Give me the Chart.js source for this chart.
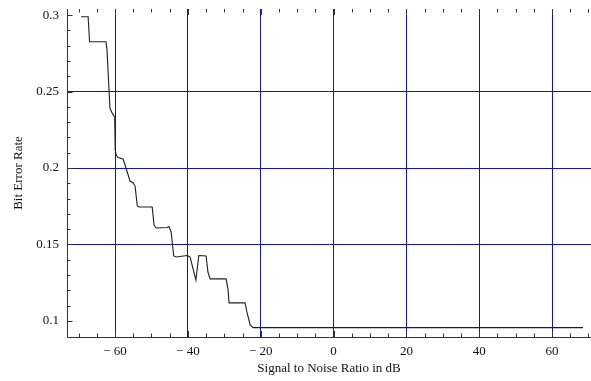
<!DOCTYPE html>
<html><head><meta charset="utf-8">
<script src="https://cdn.jsdelivr.net/npm/chart.js@4/dist/chart.umd.min.js"></script>
<style>html,body{margin:0;padding:0;background:#fff;overflow:hidden}</style>
</head><body>
<canvas id="c" width="591" height="381"></canvas>
<script>
// Signal to Noise Ratio (dB) vs Bit Error Rate
const snrDb = [-69.3, -67.4, -67.0, -62.5, -62.2, -61.8, -61.4, -60.8, -60.1, -59.96, -59.7, -59.2, -57.8, -57.0, -55.9, -55.0, -54.5, -53.9, -53.4, -49.8, -49.3, -48.7, -45.7, -45.2, -44.6, -43.9, -43.2, -40.2, -39.4, -37.8, -37.0, -35.0, -34.5, -33.9, -29.5, -28.97, -28.7, -24.3, -23.8, -22.9, -22.1, 68.5];
const bitErrorRate = [0.2989, 0.2989, 0.2826, 0.2826, 0.2771, 0.2575, 0.2392, 0.2359, 0.2333, 0.2118, 0.2085, 0.2069, 0.2059, 0.2000, 0.1915, 0.1902, 0.1882, 0.1752, 0.1745, 0.1745, 0.1627, 0.1608, 0.1611, 0.1618, 0.1582, 0.1425, 0.1418, 0.1428, 0.1418, 0.1268, 0.1428, 0.1425, 0.1320, 0.1275, 0.1275, 0.1203, 0.1118, 0.1118, 0.1059, 0.0974, 0.0956, 0.0956];

const xTickLabels = [-60, -40, -20, 0, 20, 40, 60];
const yTickLabels = [0.1, 0.15, 0.2, 0.25, 0.3];
const yGridValues = [0.15, 0.2, 0.25];
const xTickMarks = [-70, -65, -60, -55, -50, -45, -40, -35, -30, -25, -20, -15, -10, -5, 0, 5, 10, 15, 20, 25, 30, 35, 40, 45, 50, 55, 60, 65, 70];
const yTickMarks = [0.1, 0.11, 0.12, 0.13, 0.14, 0.15, 0.16, 0.17, 0.18, 0.19, 0.2, 0.21, 0.22, 0.23, 0.24, 0.25, 0.26, 0.27, 0.28, 0.29, 0.3];
const yMajorMarks = [0.1, 0.15, 0.2, 0.25, 0.3];

const GRID = '#1414b4';
const FRAME = '#333333';
const FONT = {family: "'Liberation Serif', 'Times New Roman', serif", size: 13};

const tickMarksPlugin = {
  id: 'tickMarks',
  afterDraw(chart) {
    const {ctx, chartArea: a, scales: {x, y}} = chart;
    ctx.save();
    ctx.strokeStyle = FRAME;
    ctx.lineWidth = 1;
    ctx.beginPath();
    xTickMarks.forEach(v => {
      const px = Math.round(x.getPixelForValue(v)) + 0.5;
      if (px < a.left || px > a.right) return;
      const len = xTickLabels.includes(v) ? 6 : 3.5;
      ctx.moveTo(px, a.bottom); ctx.lineTo(px, a.bottom - len);
      ctx.moveTo(px, a.top); ctx.lineTo(px, a.top + len);
    });
    yTickMarks.forEach(v => {
      const py = Math.round(y.getPixelForValue(v)) + 0.5;
      const len = yMajorMarks.includes(v) ? 5.5 : 3.5;
      ctx.moveTo(a.left, py); ctx.lineTo(a.left + len, py);
    });
    ctx.stroke();
    ctx.restore();
  }
};

new Chart(document.getElementById('c'), {
  type: 'line',
  data: {
    datasets: [{
      data: snrDb.map((v, i) => ({x: v, y: bitErrorRate[i]})),
      borderColor: '#1e1e1e',
      borderWidth: 1.1,
      pointRadius: 0,
      tension: 0,
      fill: false
    }]
  },
  options: {
    responsive: false,
    animation: false,
    devicePixelRatio: 1,
    layout: {padding: {top: 9, right: 0, left: 0, bottom: 0}},
    plugins: {legend: {display: false}, tooltip: {enabled: false}},
    scales: {
      x: {
        type: 'linear',
        min: -73.2,
        max: 70.7,
        afterBuildTicks: s => { s.ticks = xTickLabels.map(v => ({value: v})); },
        afterFit: s => { s.height = 44; s.paddingLeft = 0; s.paddingRight = 0; },
        grid: {color: GRID, lineWidth: 1, drawTicks: false},
        border: {display: true, color: FRAME, width: 1},
        ticks: {
          color: '#111', font: FONT, padding: 7, maxRotation: 0, autoSkip: false,
          callback: v => v < 0 ? '\u2212 ' + (-v) : String(v)
        },
        title: {display: true, text: 'Signal to Noise Ratio in dB', color: '#111', font: FONT, padding: {top: 0, bottom: 5}}
      },
      y: {
        type: 'linear',
        min: 0.0895,
        max: 0.304,
        afterBuildTicks: s => { s.ticks = yTickLabels.map(v => ({value: v})); },
        afterFit: s => { s.width = 67; s.paddingTop = 0; s.paddingBottom = 0; },
        grid: {
          color: c => (c.tick && yGridValues.includes(c.tick.value)) ? GRID : 'rgba(0,0,0,0)',
          lineWidth: 1, drawTicks: false
        },
        border: {display: true, color: FRAME, width: 1},
        ticks: {
          color: '#111', font: FONT, padding: 8, autoSkip: false,
          callback: v => String(+Number(v).toFixed(2))
        },
        title: {display: true, text: 'Bit Error Rate', color: '#111', font: FONT, padding: {top: 11, bottom: 0}}
      }
    }
  },
  plugins: [tickMarksPlugin]
});
</script>
</body></html>
